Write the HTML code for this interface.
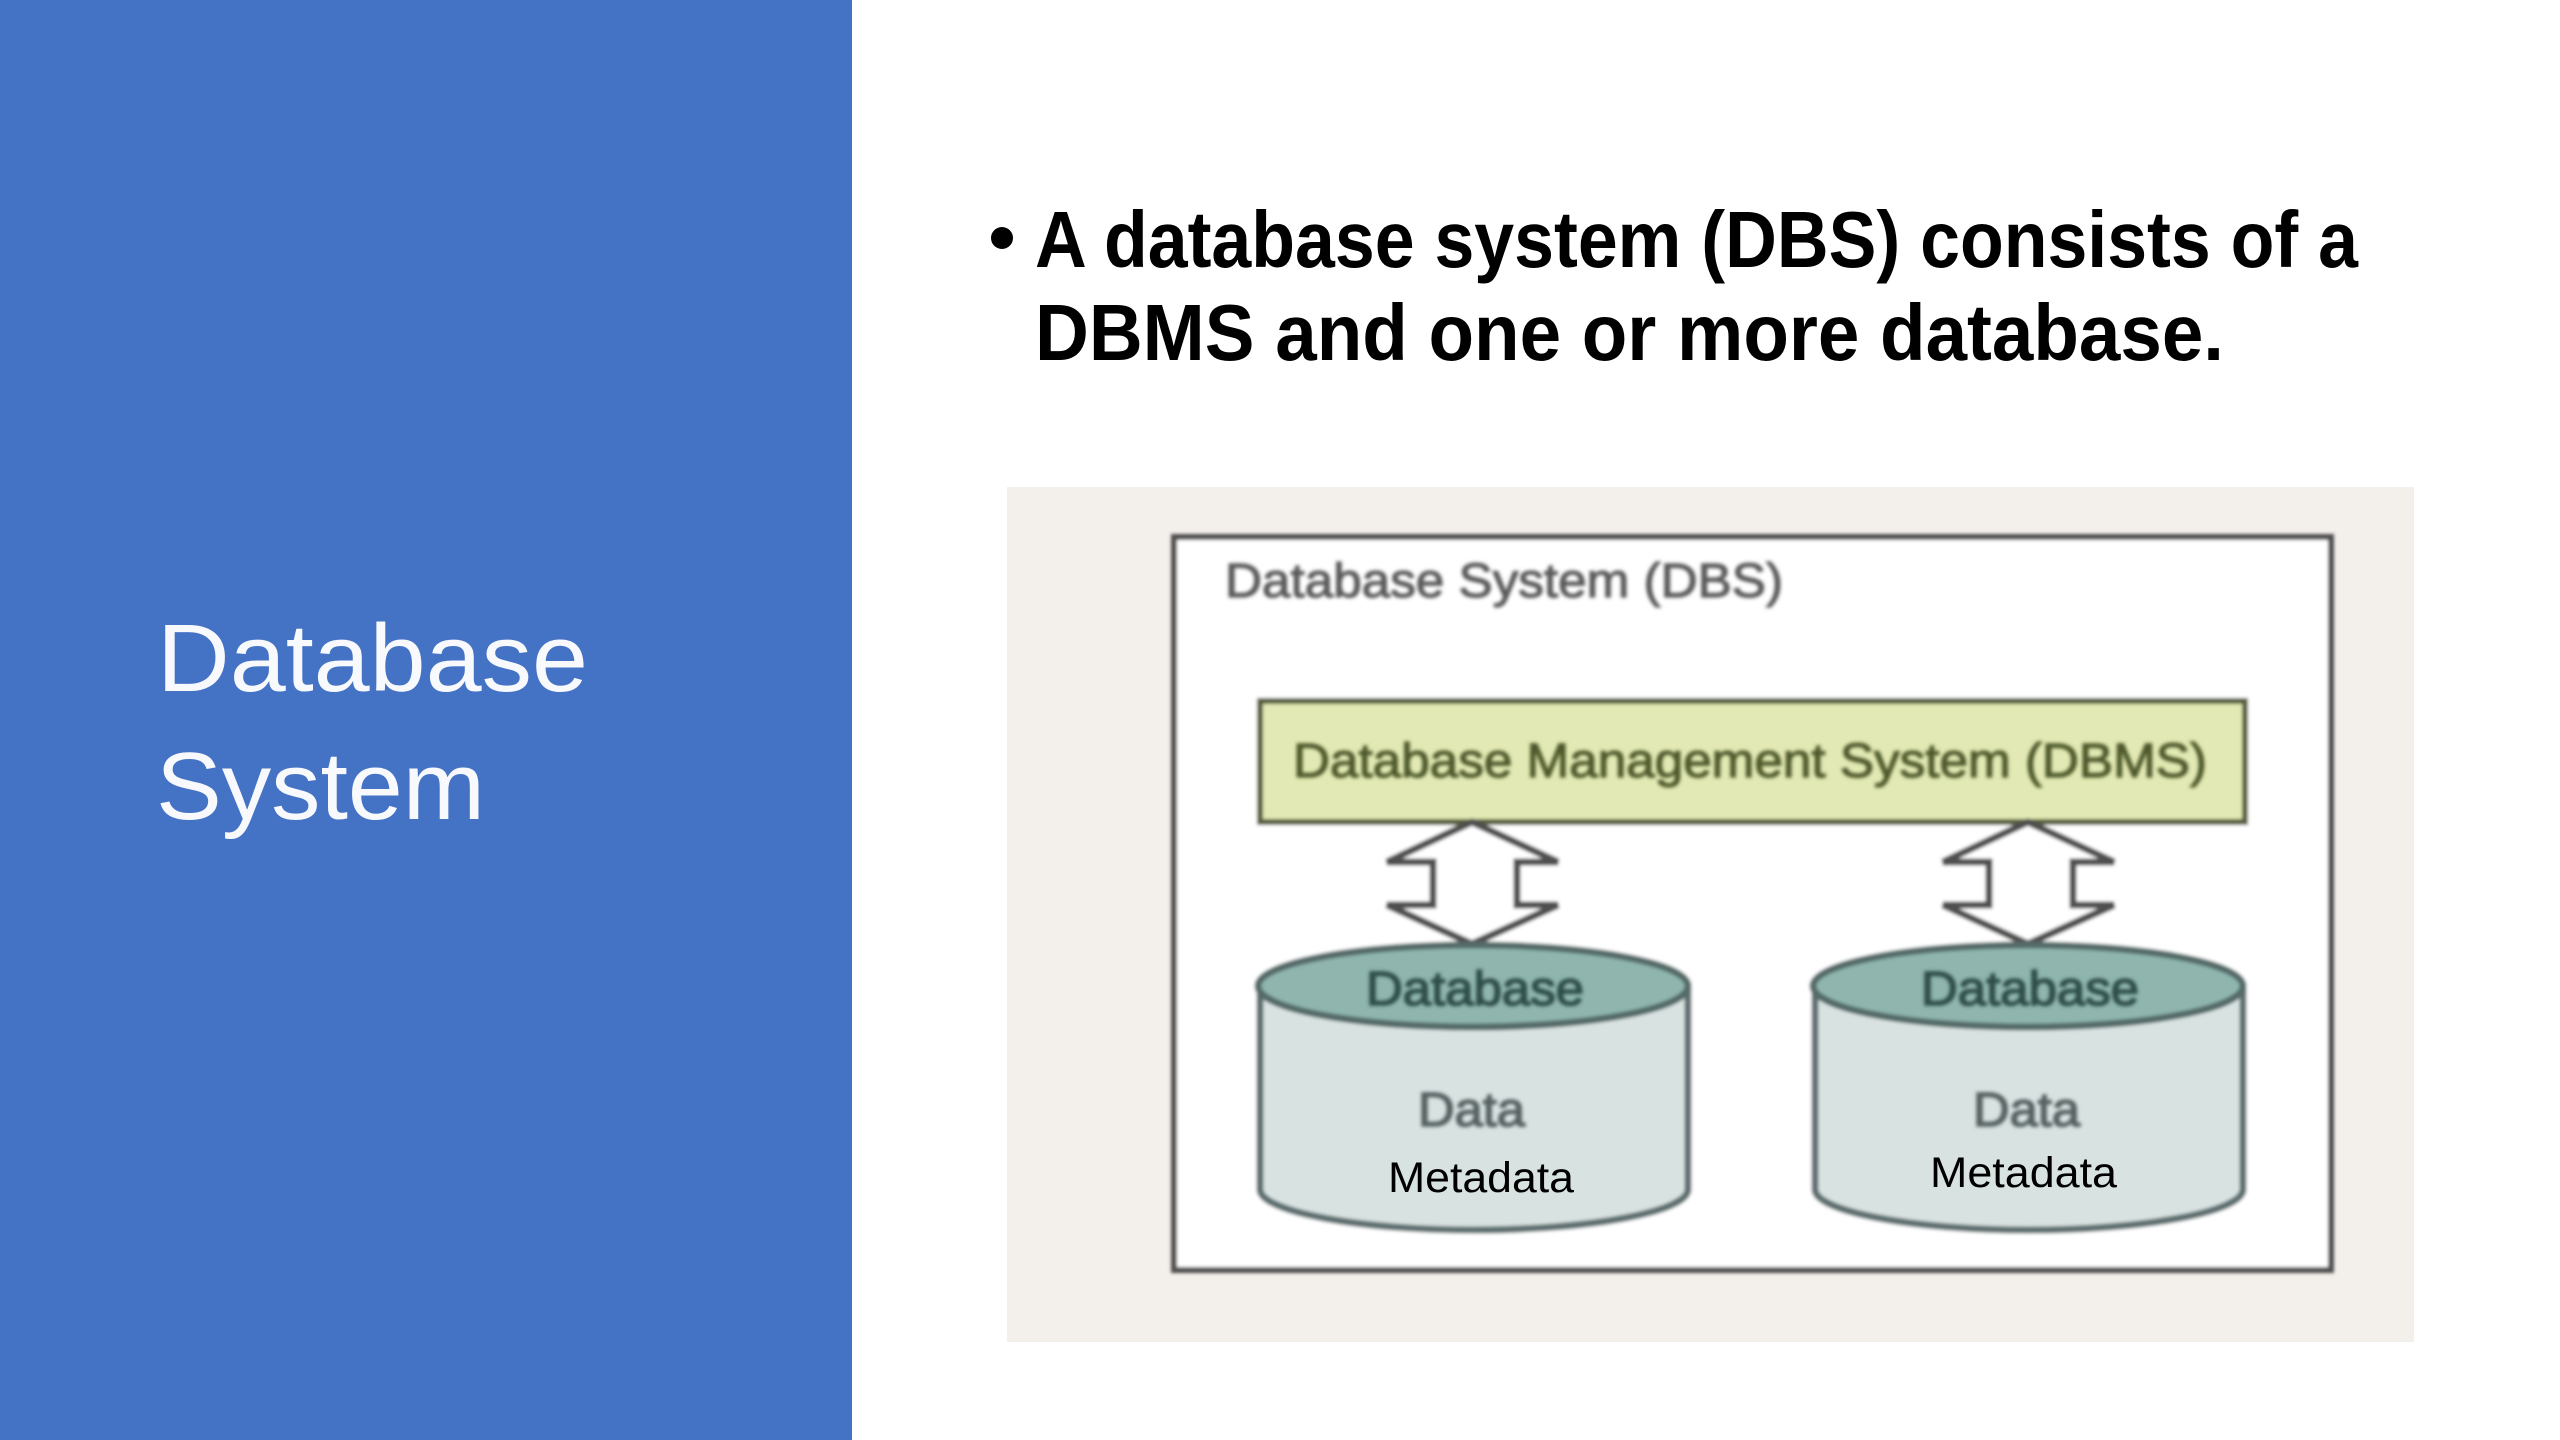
<!DOCTYPE html>
<html><head><meta charset="utf-8"><style>
html,body{margin:0;padding:0;background:#fff}
svg{display:block}
text{font-family:"Liberation Sans",sans-serif}
</style></head><body>
<svg width="2560" height="1440" viewBox="0 0 2560 1440" xmlns="http://www.w3.org/2000/svg">
<defs>
<filter id="b1" x="-5%" y="-5%" width="110%" height="110%"><feGaussianBlur stdDeviation="1.5"/></filter>
<filter id="b2" x="-5%" y="-20%" width="110%" height="140%"><feGaussianBlur stdDeviation="1.9"/></filter>
<g id="arrow"><path d="M1472 822 L1558 862 L1517 862 L1517 905 L1558 905 L1472 944 L1387 905 L1433 905 L1433 862 L1387 862 Z" fill="#fff" stroke="#505050" stroke-width="7" stroke-linejoin="miter"/></g>
<g id="cyl">
<path d="M1260 987 L1260 1190 C1262 1212 1360 1230 1473 1230 C1590 1230 1686 1212 1688 1190 L1688 987 Z" fill="#d8e2e1" stroke="#5f7071" stroke-width="7"/>
<ellipse cx="1473" cy="986" rx="215" ry="41" fill="#8fb5ae" stroke="#556c69" stroke-width="7"/>
</g>
</defs>
<rect width="2560" height="1440" fill="#fff"/>
<rect x="0" y="0" width="852" height="1440" fill="#4472c4"/>
<text x="157" y="691" font-size="96" fill="#fff" fill-opacity=".96" textLength="431" lengthAdjust="spacingAndGlyphs">Database</text>
<text x="156" y="819" font-size="96" fill="#fff" fill-opacity=".96" textLength="329" lengthAdjust="spacingAndGlyphs">System</text>

<circle cx="1002" cy="238" r="11" fill="#000"/>
<text x="1035" y="267" font-size="80" font-weight="700" fill="#000" textLength="1323" lengthAdjust="spacingAndGlyphs">A database system (DBS) consists of a</text>
<text x="1035" y="360" font-size="80" font-weight="700" fill="#000" textLength="1189" lengthAdjust="spacingAndGlyphs">DBMS and one or more database.</text>

<rect x="1007" y="487" width="1407" height="855" fill="#f3efeb"/>
<g filter="url(#b1)">
<rect x="1174" y="537" width="1157" height="733" fill="#fff" stroke="#505050" stroke-width="6"/>
<rect x="1260" y="701" width="985" height="121" fill="#e2e9b4" stroke="#565f3c" stroke-width="6"/>
<use href="#arrow"/>
<use href="#arrow" x="556"/>
<use href="#cyl"/>
<use href="#cyl" x="555"/>
</g>
<g filter="url(#b2)" font-weight="400">
<text x="1225" y="597" font-size="48" fill="#5a5a5a" stroke="#5a5a5a" stroke-width="1.2" textLength="558" lengthAdjust="spacingAndGlyphs">Database System (DBS)</text>
<text x="1293" y="777" font-size="48" fill="#4e582a" stroke="#4e582a" stroke-width="1.2" textLength="914" lengthAdjust="spacingAndGlyphs">Database Management System (DBMS)</text>
<text x="1366" y="1005" font-size="48" fill="#2f4e4a" stroke="#2f4e4a" stroke-width="1.6" textLength="218" lengthAdjust="spacingAndGlyphs">Database</text>
<text x="1921" y="1005" font-size="48" fill="#2f4e4a" stroke="#2f4e4a" stroke-width="1.6" textLength="218" lengthAdjust="spacingAndGlyphs">Database</text>
<text x="1418" y="1126" font-size="48" fill="#566262" stroke="#566262" stroke-width="1.6" textLength="107" lengthAdjust="spacingAndGlyphs">Data</text>
<text x="1973" y="1126" font-size="48" fill="#566262" stroke="#566262" stroke-width="1.6" textLength="107" lengthAdjust="spacingAndGlyphs">Data</text>
</g>
<text x="1388" y="1192" font-size="43" fill="#000" textLength="186" lengthAdjust="spacingAndGlyphs">Metadata</text>
<text x="1930" y="1187" font-size="43" fill="#000" textLength="187" lengthAdjust="spacingAndGlyphs">Metadata</text>
</svg>
</body></html>
